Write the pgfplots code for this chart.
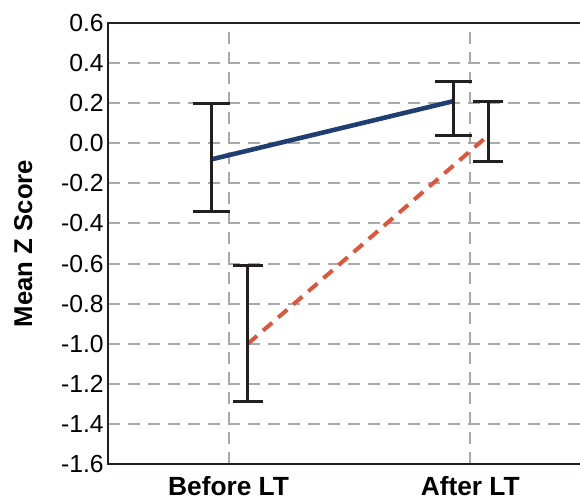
\documentclass[border=0pt]{standalone}
\usepackage{pgfplots}
\pgfplotsset{compat=1.18}
\usepackage{fontspec}
\setmainfont{Liberation Sans}
\definecolor{navy}{HTML}{1F3F73}
\definecolor{redor}{HTML}{E0553A}
\definecolor{barc}{HTML}{231F20}
\definecolor{gridc}{HTML}{AAAAAA}
\begin{document}
\begin{tikzpicture}
\useasboundingbox (-53.85bp,-17bp) rectangle (236.15bp,232bp);
\begin{axis}[
  scale only axis,
  width=241.7bp, height=220.5bp,
  xmin=-0.5, xmax=1.5,
  ymin=-1.6, ymax=0.6,
  xtick={0,1},
  xticklabels={Before LT, After LT},
  ytick distance=0.2,
  major tick length=0pt,
  grid=major,
  major grid style={gridc, line width=1bp, dash pattern=on 6bp off 4bp},
  axis line style={barc, line width=1.1bp},
  ticklabel style={font=\fontsize{12.4}{14}\selectfont},
  yticklabel style={xshift=1.5bp, /pgf/number format/.cd, fixed, fixed zerofill, precision=1, assume math mode=true},
  xticklabel style={font=\fontsize{13.2}{14}\selectfont\bfseries, yshift=-2.5bp},
  ylabel={Mean Z Score},
  ylabel style={font=\fontsize{12.9}{14}\selectfont\bfseries, yshift=7.5bp},
  error bars/error bar style={solid, barc, line width=1.5bp},
]
\addplot[navy, line width=2.3bp, mark=none,
  error bars/.cd, y dir=both, y explicit,
  error mark options={rotate=90, mark size=9.2bp, line width=1.5bp, barc}]
  coordinates {(-0.07,-0.08) += (0,0.28) -= (0,0.26)
               (0.93,0.21) += (0,0.10) -= (0,0.17)};
\addplot[redor, line width=2bp, dash pattern=on 6bp off 4bp, mark=none,
  error bars/.cd, y dir=both, y explicit,
  error mark options={rotate=90, mark size=7.5bp, line width=1.5bp, barc, solid}]
  coordinates {(0.08,-1.0) += (0,0.39) -= (0,0.29)
               (1.075,0.04) += (0,0.17) -= (0,0.13)};
\end{axis}
\end{tikzpicture}
\end{document}
